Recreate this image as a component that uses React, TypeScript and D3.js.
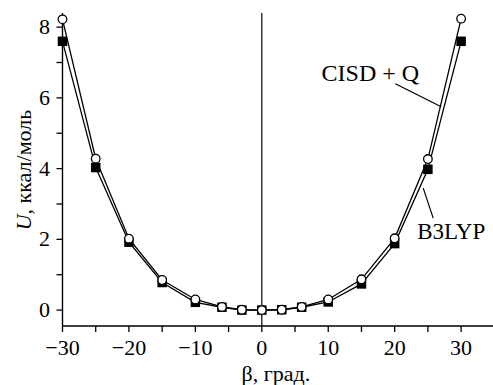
import React from "react";
import * as d3 from "d3";

// angles, degrees
const betaValues = [-30, -25, -20, -15, -10, -6, -3, 0, 3, 6, 10, 15, 20, 25, 30];
// energies, kcal/mol
const cisdQ = [8.22, 4.28, 2.02, 0.85, 0.3, 0.09, 0.01, 0, 0.01, 0.09, 0.3, 0.87, 2.03, 4.27, 8.24];
const b3lyp = [7.6, 4.03, 1.92, 0.78, 0.22, 0.08, 0.0, 0, 0.01, 0.08, 0.23, 0.74, 1.88, 3.98, 7.6];

const xTicks = [-30, -25, -20, -15, -10, -5, 0, 5, 10, 15, 20, 25, 30];
const yTicks = [0, 1, 2, 3, 4, 5, 6, 7, 8];

const FONT = "Liberation Serif";

const width = 493;
const height = 385;

const x = d3.scaleLinear().domain([-30, 34.8]).range([62.5, 493]);
const y = d3.scaleLinear().domain([-0.45, 8.4]).range([326, 13]);

const fmt = d3.format("d");

const line = d3
  .line<number>()
  .x((d, i) => x(betaValues[i]))
  .y((d) => y(d));

function App() {
  const x0 = x.range()[0];
  const y0 = y.range()[0];
  const sq = 9.5;

  return (
    <svg
      width={width}
      height={height}
      style={{ position: "absolute", left: 0, top: 0, background: "white" }}
      fontFamily={FONT}
    >
      {/* zero line */}
      <line x1={x(0)} x2={x(0)} y1={y(8.4)} y2={y0} stroke="black" strokeWidth={1.2} />

      {/* x axis */}
      <line x1={x0} x2={x.range()[1]} y1={y0} y2={y0} stroke="black" strokeWidth={1.4} />
      {xTicks.map((t) => (
        <g key={"xt" + t} transform={`translate(${x(t)},${y0})`}>
          <line y2={6} stroke="black" strokeWidth={1.3} />
          {t % 10 === 0 && (
            <text y={13.5} dy="0.71em" textAnchor="middle" fontSize={22} fill="black">
              {fmt(t)}
            </text>
          )}
        </g>
      ))}

      {/* y axis */}
      <line x1={x0} x2={x0} y1={y.range()[1]} y2={y0} stroke="black" strokeWidth={1.4} />
      {yTicks.map((t) => (
        <g key={"yt" + t} transform={`translate(${x0},${y(t)})`}>
          <line x2={-6} stroke="black" strokeWidth={1.3} />
          {t % 2 === 0 && (
            <text x={-12.5} dy="0.32em" textAnchor="end" fontSize={22} fill="black">
              {t}
            </text>
          )}
        </g>
      ))}

      {/* series lines */}
      <path d={line(b3lyp) ?? ""} fill="none" stroke="black" strokeWidth={1.3} />
      <path d={line(cisdQ) ?? ""} fill="none" stroke="black" strokeWidth={1.3} />

      {/* B3LYP squares */}
      {b3lyp.map((v, i) => (
        <rect
          key={"s" + i}
          x={x(betaValues[i]) - sq / 2}
          y={y(v) - sq / 2}
          width={sq}
          height={sq}
          fill="black"
        />
      ))}

      {/* CISD + Q circles */}
      {cisdQ.map((v, i) => (
        <circle
          key={"c" + i}
          cx={x(betaValues[i])}
          cy={y(v)}
          r={4.3}
          fill="white"
          stroke="black"
          strokeWidth={1.3}
        />
      ))}

      {/* series labels */}
      <line x1={x(20.1)} y1={y(6.4)} x2={x(27.0)} y2={y(5.75)} stroke="black" strokeWidth={1.2} />
      <text x={x(9.0)} y={y(6.47)} fontSize={24}>
        CISD + Q
      </text>

      <line x1={x(24.3)} y1={y(3.45)} x2={x(25.8)} y2={y(2.6)} stroke="black" strokeWidth={1.2} />
      <text x={x(23.4)} y={y(2.0)} fontSize={23}>
        B3LYP
      </text>

      {/* axis titles */}
      <text x={241.5} y={380.5} fontSize={22}>
        β, град.
      </text>
      <text transform="translate(31,170) rotate(-90)" textAnchor="middle" fontSize={22}>
        <tspan fontStyle="italic">U</tspan>
        <tspan>, ккал/моль</tspan>
      </text>
    </svg>
  );
}

export default App;
